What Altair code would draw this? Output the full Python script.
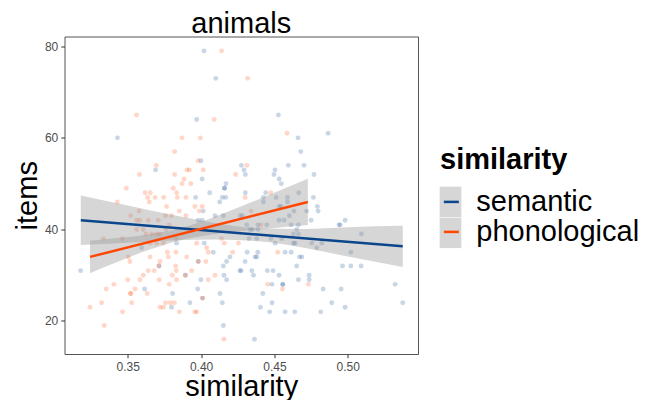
import altair as alt
import pandas as pd

# ---------------- data ----------------
categories = ["semantic", "phonological"]
band_groups = ["semantic band", "phonological band"]
line_colors = ["#0B468C", "#FF4500"]

# semantic: items -> similarity values
sem_by_items = {
    79: [0.402], 73: [0.410], 65: [0.4527], 64: [0.397], 61: [0.4866],
    60: [0.343, 0.4661], 57: [0.468], 55: [0.400],
    54: [0.4275, 0.4595, 0.4702], 53: [0.369, 0.4293, 0.4504],
    52: [0.4302, 0.4497, 0.477], 51: [0.4007, 0.4532], 50: [0.417, 0.4547],
    49: [0.416, 0.416], 48: [0.4059, 0.4302, 0.4441, 0.4666],
    47: [0.3963, 0.4145, 0.4168, 0.4425, 0.4512, 0.4589, 0.4766],
    46: [0.4127, 0.4425, 0.4589], 45: [0.4532, 0.4546, 0.4793],
    44: [0.4015, 0.4634, 0.472, 0.4798],
    43: [0.4095, 0.4152, 0.4266, 0.4282, 0.4602],
    42: [0.3981, 0.4008, 0.4532, 0.4566, 0.475, 0.4982],
    41: [0.4312, 0.4387, 0.4448, 0.4614, 0.4664, 0.4941, 0.4948],
    40: [0.4334, 0.435, 0.4389, 0.4652], 39: [0.463, 0.4664, 0.5093],
    38: [0.4327, 0.438, 0.4477, 0.455],
    37: [0.3833, 0.4022, 0.4505, 0.463, 0.4641, 0.4755, 0.4823],
    36: [0.3595, 0.4789],
    35: [0.4083, 0.4314, 0.4387, 0.4573, 0.4614, 0.5021],
    34: [0.4197, 0.4368, 0.438, 0.4671, 0.4687],
    33: [0.3981, 0.4174, 0.430],
    32: [0.3713, 0.4152, 0.4652, 0.4964, 0.5021, 0.5091],
    31: [0.3179, 0.4265, 0.4273, 0.4346, 0.4452, 0.4491],
    30: [0.3893, 0.4156, 0.4357, 0.4532, 0.4737],
    29: [0.3999, 0.4174, 0.4664, 0.4737],
    28: [0.4484, 0.4557, 0.4557, 0.5323],
    27: [0.3615, 0.3977, 0.4832, 0.4955], 26: [0.3806, 0.4129, 0.4421],
    25: [0.401], 24: [0.3924, 0.4145, 0.4484, 0.4891, 0.5375],
    23: [0.3799, 0.4405, 0.4982], 22: [0.4468, 0.4573, 0.4639, 0.4816],
    19: [0.4152], 16: [0.4364],
}

# phonological: items -> similarity values
pho_by_items = {
    79: [0.414], 73: [0.4318], 65: [0.356], 64: [0.409], 61: [0.4586],
    60: [0.387, 0.3995], 57: [0.382], 55: [0.398], 54: [0.3695, 0.4313],
    53: [0.3904, 0.392, 0.4015], 52: [0.358, 0.382, 0.4236], 51: [0.3884],
    50: [0.387, 0.393], 49: [0.349, 0.381], 48: [0.3618, 0.3654, 0.3834, 0.4475],
    47: [0.3636, 0.3686, 0.3745, 0.3838, 0.3897, 0.430],
    46: [0.3429, 0.3647], 45: [0.3765, 0.3958, 0.4008],
    44: [0.3577, 0.3852, 0.3988, 0.4341], 43: [0.352, 0.3758, 0.3799, 0.3897],
    42: [0.3561, 0.3583, 0.364, 0.3708], 41: [0.3783, 0.4409],
    40: [0.3561, 0.3606, 0.3761], 39: [0.3624, 0.3663, 0.3697, 0.372],
    38: [0.3333, 0.3463, 0.3829, 0.414],
    37: [0.3652, 0.3697, 0.3743, 0.397, 0.4158, 0.4255],
    36: [0.4038], 35: [0.377, 0.3829, 0.4049, 0.4215, 0.4523],
    34: [0.3504, 0.3652, 0.3777, 0.3902], 33: [0.3515, 0.372, 0.3981, 0.4033],
    32: [0.3713, 0.3827], 31: [0.364, 0.3681, 0.3831, 0.3936],
    30: [0.3606, 0.3804, 0.3893, 0.4095],
    29: [0.35, 0.3583, 0.3715, 0.3833, 0.4049],
    28: [0.3406, 0.3783, 0.4455, 0.4732], 27: [0.3354, 0.355, 0.4555],
    26: [0.352, 0.352, 0.3633], 25: [0.401],
    24: [0.3322, 0.3527, 0.3758, 0.379, 0.3818],
    23: [0.3243, 0.372, 0.3743], 22: [0.3465, 0.3852, 0.3958, 0.397],
    19: [0.334], 16: [0.4156],
}

# fitted lines (lm)
sem_fit_x = [0.318, 0.5375]
sem_fit_y = [42.0, 36.3]
pho_fit_x = [0.3243, 0.4728]
pho_fit_y = [34.0, 46.0]

# confidence bands
sem_band_x = [0.318, 0.35, 0.38, 0.41, 0.44, 0.47, 0.50, 0.5375]
sem_band_lo = [36.6, 37.1, 37.6, 37.8, 37.4, 36.0, 34.1, 31.8]
sem_band_hi = [47.4, 45.2, 43.2, 41.4, 40.2, 40.1, 40.5, 40.8]
pho_band_x = [0.3243, 0.345, 0.365, 0.385, 0.405, 0.425, 0.445, 0.4728]
pho_band_lo = [30.45, 33.15, 35.6, 37.6, 38.8, 39.55, 40.15, 40.95]
pho_band_hi = [37.55, 38.2, 38.97, 40.2, 42.25, 44.74, 47.35, 51.05]

x_ticks = [0.35, 0.40, 0.45, 0.50]
y_ticks = [20, 40, 60, 80]

# ---------------- tables ----------------
rows = []
for cat, d in zip(categories, [sem_by_items, pho_by_items]):
    for items, xs in d.items():
        for xv in xs:
            rows.append({"sim": xv, "items": items, "similarity": cat})
points = pd.DataFrame(rows)

fit = pd.concat([
    pd.DataFrame({"sim": sem_fit_x, "items": sem_fit_y, "similarity": categories[0]}),
    pd.DataFrame({"sim": pho_fit_x, "items": pho_fit_y, "similarity": categories[1]}),
])
band = pd.concat([
    pd.DataFrame({"sim": sem_band_x, "lo": sem_band_lo, "hi": sem_band_hi, "grp": band_groups[0]}),
    pd.DataFrame({"sim": pho_band_x, "lo": pho_band_lo, "hi": pho_band_hi, "grp": band_groups[1]}),
])

# ---------------- chart ----------------
W, H = 353.5, 317.5
x_scale = alt.Scale(domain=[0.3069, 0.5479], nice=False, zero=False)
y_scale = alt.Scale(domain=[12.79, 82.14], nice=False, zero=False)

x_axis = alt.Axis(values=x_ticks, format=".2f", title="similarity", grid=False, domain=False,
                  tickColor="#333333", tickSize=3.7, tickWidth=1,
                  labelColor="#4d4d4d", labelFontSize=12, labelPadding=3.5,
                  titleFontSize=29, titleFontWeight="normal", titleColor="black",
                  titleBaseline="alphabetic", titleX=W / 2, titleY=41)
y_axis = alt.Axis(values=y_ticks, title="items", grid=False, domain=False,
                  tickColor="#333333", tickSize=3.7, tickWidth=1,
                  labelColor="#4d4d4d", labelFontSize=12, labelPadding=3,
                  titleFontSize=29, titleFontWeight="normal", titleColor="black",
                  titleAngle=270, titleBaseline="alphabetic", titleAlign="center",
                  titleX=-28.5, titleY=H / 2)

LX, LY = 375.5, 109.9
ROWPAD = 0
TPAD = 12

# points: colour scale listed in reverse order so that its (hidden) legend
# is not merged with the line legend
pts = alt.Chart(points).mark_circle(size=24, opacity=0.22).encode(
    x=alt.X("sim:Q", scale=x_scale, axis=x_axis),
    y=alt.Y("items:Q", scale=y_scale, axis=y_axis),
    color=alt.Color("similarity:N",
                    scale=alt.Scale(domain=categories[::-1], range=line_colors[::-1]),
                    legend=None),
)

bands = alt.Chart(band).mark_area(opacity=0.4, interpolate="monotone").encode(
    x=alt.X("sim:Q", scale=x_scale),
    y=alt.Y("lo:Q", scale=y_scale),
    y2="hi:Q",
    fill=alt.Fill("grp:N",
                  scale=alt.Scale(domain=band_groups, range=["#999999", "#999999"]),
                  legend=alt.Legend(title="similarity", orient="none", legendX=LX - 4, legendY=LY,
                                    symbolType="M-1,-1.4H1V1.4H-1Z", symbolSize=471,
                                    symbolOpacity=0.4, symbolStrokeWidth=0,
                                    labelFontSize=29, labelOffset=15, labelOpacity=0, labelLimit=20,
                                    titleOpacity=0, titleFontSize=29, titleFontWeight="bold",
                                    titlePadding=TPAD, rowPadding=ROWPAD,
                                    padding=0, zindex=0)),
)

lines = alt.Chart(fit).mark_line(strokeWidth=2.5).encode(
    x=alt.X("sim:Q", scale=x_scale),
    y=alt.Y("items:Q", scale=y_scale),
    stroke=alt.Stroke("similarity:N", scale=alt.Scale(domain=categories, range=line_colors),
                      legend=alt.Legend(title="similarity", orient="none", legendX=LX, legendY=LY,
                                        symbolType="stroke", symbolSize=225, symbolStrokeWidth=2.5,
                                        symbolOffset=-3.15, labelFontSize=29, labelOffset=10.4,
                                        labelLimit=400, labelColor="black", titleColor="black",
                                        titleFontSize=29, titleFontWeight="bold",
                                        titlePadding=TPAD, rowPadding=ROWPAD,
                                        padding=0, zindex=1)),
)

chart = alt.layer(pts, bands, lines).properties(
    width=W, height=H,
    title=alt.Title("animals", fontSize=29, fontWeight="normal", color="black",
                    anchor="middle", offset=3.2, dy=6),
    autosize=alt.AutoSizeParams(type="none"),
    padding={"left": 56.5, "top": 28.5, "right": 226, "bottom": 46},
).configure(font="Liberation Sans").configure_view(stroke="#555555", strokeWidth=1)

chart.save("out.html", embed_options={"renderer": "svg", "actions": False})
